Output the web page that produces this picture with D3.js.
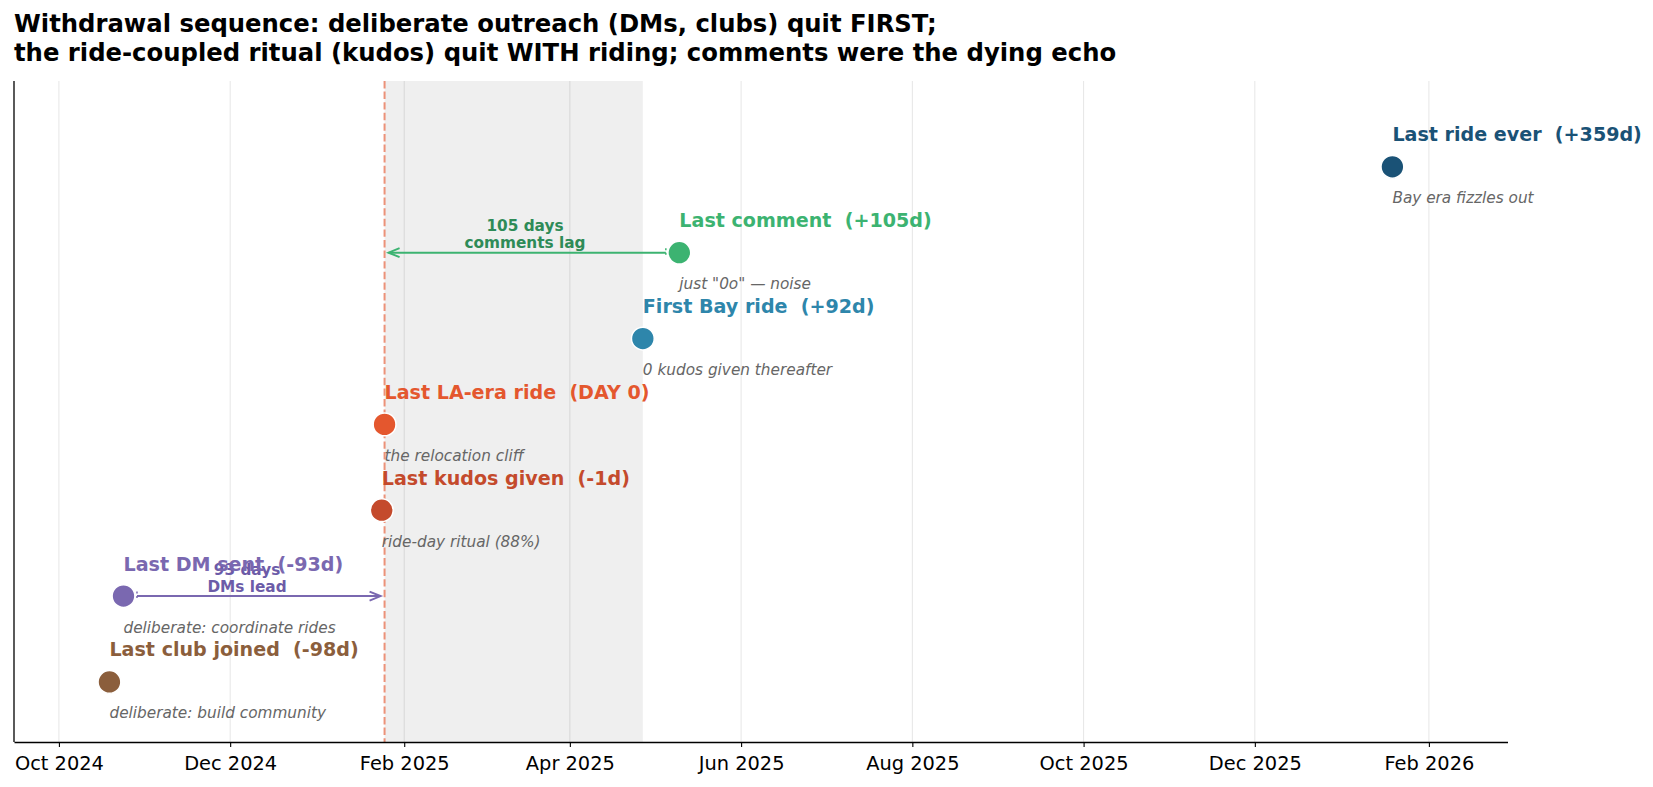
<!DOCTYPE html>
<html>
<head>
<meta charset="utf-8">
<script src="https://cdn.jsdelivr.net/npm/d3@7"></script>
<style>
  body { margin: 0; background: #fff; }
  text { font-family: "DejaVu Sans", sans-serif; white-space: pre; }
</style>
</head>
<body>
<div id="chart"></div>
<script>
const width = 1653;
const height = 787;

// data
var day0 = "2025-01-25";
var events = ["Last club joined", "Last DM sent", "Last kudos given", "Last LA-era ride",
              "First Bay ride", "Last comment", "Last ride ever"];
var offsets = [-98, -93, -1, 0, 92, 105, 359];
var tags = ["-98d", "-93d", "-1d", "DAY 0", "+92d", "+105d", "+359d"];
var notes = ["deliberate: build community", "deliberate: coordinate rides", "ride-day ritual (88%)",
             "the relocation cliff", "0 kudos given thereafter", "just \"0o\" \u2014 noise",
             "Bay era fizzles out"];
var colors = ["#8b5e3c", "#7a68b0", "#c44a2c", "#e4572e", "#2e86ab", "#3cb371", "#1a5276"];

var lagFrom = [1, 5];
var lagText = [["93 days", "DMs lead"], ["105 days", "comments lag"]];
var lagArrow = ["#7a68b0", "#3cb371"];
var lagInk = ["#6c5ba8", "#2e8b57"];

var tickDates = ["2024-10-01", "2024-12-01", "2025-02-01", "2025-04-01", "2025-06-01",
                 "2025-08-01", "2025-10-01", "2025-12-01", "2026-02-01"];
var xRange = ["2024-09-15", "2026-03-01"];

var title = ["Withdrawal sequence: deliberate outreach (DMs, clubs) quit FIRST;",
             "the ride-coupled ritual (kudos) quit WITH riding; comments were the dying echo"];

// scales
var parse = d3.timeParse("%Y-%m-%d");
var d0 = parse(day0);
var dates = offsets.map((o) => d3.timeDay.offset(d0, o));
var bayDate = dates[4];

var plotL = 14, plotR = 1507.5, plotT = 81, plotB = 742;

var x = d3.scaleTime().domain(xRange.map(parse)).range([plotL, plotR]);
var y = d3.scaleLinear().domain([-0.7, 7.0]).range([plotB, plotT]);

var svg = d3.select("#chart").append("svg")
      .attr("width", width).attr("height", height);

// title
svg.selectAll("text.title").data(title).enter()
  .append("text").attr("class", "title")
  .attr("x", 14).attr("y", (d, i) => 32 + i * 29)
  .attr("font-size", 24.3).attr("font-weight", "bold").attr("fill", "#000")
  .text((d) => d);

// shaded gap between last LA ride and first Bay ride
svg.append("rect")
  .attr("x", x(d0)).attr("y", plotT)
  .attr("width", x(bayDate) - x(d0)).attr("height", plotB - plotT)
  .attr("fill", "#808080").attr("fill-opacity", 0.13);

// grid
var ticks = tickDates.map(parse);
svg.selectAll("line.grid").data(ticks).enter()
  .append("line").attr("class", "grid")
  .attr("x1", (d) => x(d)).attr("x2", (d) => x(d))
  .attr("y1", plotT).attr("y2", plotB)
  .attr("stroke", "#000").attr("stroke-opacity", 0.1).attr("stroke-width", 1);

// day 0 line
svg.append("line")
  .attr("x1", x(d0)).attr("x2", x(d0)).attr("y1", plotT).attr("y2", plotB)
  .attr("stroke", "rgb(236,146,121)").attr("stroke-width", 2)
  .attr("stroke-dasharray", "7.4,3.2");

// axes
var xAxis = d3.axisBottom(x).tickValues(ticks)
  .tickFormat(d3.timeFormat("%b %Y"))
  .tickSize(5).tickSizeOuter(0).tickPadding(9);
var gx = svg.append("g").attr("transform", `translate(0,${plotB})`).call(xAxis);
gx.select(".domain").attr("stroke", "#000").attr("stroke-width", 1.3);
gx.selectAll(".tick line").attr("stroke", "#000").attr("stroke-width", 1.1);
gx.selectAll(".tick text").attr("font-size", 19.4).attr("fill", "#000")
  .attr("font-family", "DejaVu Sans");

svg.append("line")
  .attr("x1", plotL).attr("x2", plotL).attr("y1", plotT).attr("y2", plotB)
  .attr("stroke", "#000").attr("stroke-width", 1.3);

// lag arrows
lagFrom.forEach((ev, k) => {
  let xs = x(dates[ev]), x0 = x(d0), yy = y(ev);
  let dir = Math.sign(x0 - xs);
  let start = xs + dir * 13.5, tip = x0 - dir * 4;
  let g = svg.append("g");
  g.append("line")
    .attr("x1", start).attr("x2", tip).attr("y1", yy).attr("y2", yy)
    .attr("stroke", lagArrow[k]).attr("stroke-width", 2);
  g.append("polyline")
    .attr("points", [[tip - dir * 11, yy - 4.5], [tip, yy], [tip - dir * 11, yy + 4.5]].join(" "))
    .attr("fill", "none").attr("stroke", lagArrow[k]).attr("stroke-width", 2)
    .attr("stroke-linejoin", "miter");
  g.append("line")
    .attr("x1", start).attr("x2", start).attr("y1", yy - 4.5).attr("y2", yy + 4.5)
    .attr("stroke", lagArrow[k]).attr("stroke-width", 1.5)
    .attr("stroke-dasharray", "2,2.5");
  let xm = (xs + x0) / 2 - 7;
  g.selectAll("text").data(lagText[k]).enter()
    .append("text")
    .attr("x", xm).attr("y", (d, i) => yy - 21.5 + i * 17)
    .attr("text-anchor", "middle")
    .attr("font-size", 15.3).attr("font-weight", "bold").attr("fill", lagInk[k])
    .text((d) => d);
});

// points
svg.selectAll("circle.ev").data(events).enter()
  .append("circle").attr("class", "ev")
  .attr("cx", (d, i) => x(dates[i])).attr("cy", (d, i) => y(i))
  .attr("r", 11.4)
  .attr("fill", (d, i) => colors[i])
  .attr("stroke", "#fff").attr("stroke-width", 1.5);

// labels
svg.selectAll("text.lab").data(events).enter()
  .append("text").attr("class", "lab")
  .attr("x", (d, i) => x(dates[i])).attr("y", (d, i) => y(i) - 25.5)
  .attr("font-size", 19.1).attr("font-weight", "bold")
  .attr("fill", (d, i) => colors[i])
  .text((d, i) => `${d}  (${tags[i]})`);

svg.selectAll("text.note").data(notes).enter()
  .append("text").attr("class", "note")
  .attr("x", (d, i) => x(dates[i])).attr("y", (d, i) => y(i) + 36.5)
  .attr("font-size", 15.3).attr("font-style", "italic").attr("fill", "#666")
  .text((d) => d);
</script>
</body>
</html>
